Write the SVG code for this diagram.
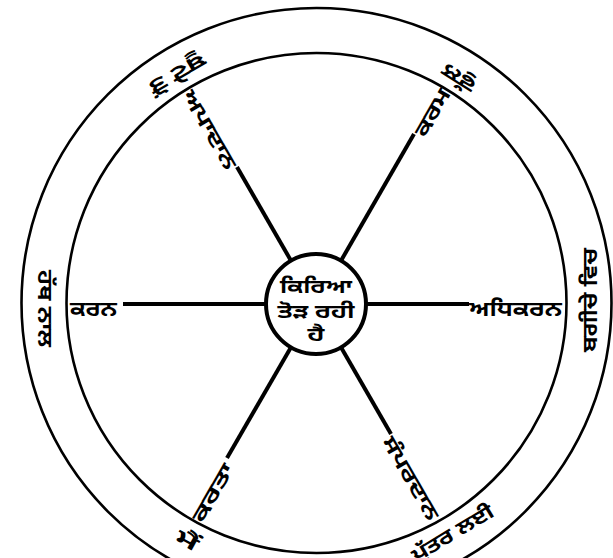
<svg xmlns="http://www.w3.org/2000/svg" width="613" height="558" viewBox="0 0 613 558">
<style>
.ring{fill:none;stroke:#000;stroke-width:2.6}
.spoke{stroke:#000;stroke-width:4;stroke-linecap:butt}
.hubc{fill:#fff;stroke:#000;stroke-width:4}
text{font-family:"Noto Sans Gurmukhi","Lohit Gurmukhi","Noto Sans","DejaVu Sans",sans-serif;fill:#000;font-weight:bold}
.lab{font-size:20px}
.rt{font-size:20px;text-anchor:middle}
.hubt{font-size:19px;text-anchor:middle}
</style>
<rect width="613" height="558" fill="#fff"/>
<g id="wheel">
<circle class="ring" cx="316.5" cy="303" r="295"/>
<circle class="ring" cx="316.5" cy="303" r="250"/>
</g>
<g id="connectors">
<line class="spoke" x1="366" y1="304" x2="469" y2="304"/>
<line class="spoke" x1="266" y1="304" x2="123" y2="304"/>
<line class="spoke" x1="291" y1="260.7" x2="237" y2="167"/>
<line class="spoke" x1="341" y1="260.7" x2="414" y2="134"/>
<line class="spoke" x1="291" y1="347.3" x2="227" y2="458"/>
<line class="spoke" x1="341" y1="347.3" x2="391" y2="434"/>
</g>
<g id="hub">
<circle class="hubc" cx="316" cy="304" r="50"/>
<text class="hubt" x="316" y="293" textLength="72" lengthAdjust="spacingAndGlyphs">ਕਿਰਿਆ</text>
<text class="hubt" x="316" y="318" textLength="77" lengthAdjust="spacingAndGlyphs">ਤੋੜ ਰਹੀ</text>
<text class="hubt" x="316" y="341" textLength="17" lengthAdjust="spacingAndGlyphs">ਹੈ</text>
</g>
<g id="adhikaran"><text class="lab" transform="translate(469,304)" y="12" textLength="93" lengthAdjust="spacingAndGlyphs">ਅਧਿਕਰਨ</text></g>
<g id="karan"><text class="lab" transform="translate(70,304)" y="12" textLength="47" lengthAdjust="spacingAndGlyphs">ਕਰਨ</text></g>
<g id="apadan"><text class="lab" transform="translate(192,89) rotate(60)" y="12" textLength="88" lengthAdjust="spacingAndGlyphs">ਅਪਾਦਾਨ</text></g>
<g id="karam"><text class="lab" transform="translate(415,132.5) rotate(-60)" y="12" textLength="52" lengthAdjust="spacingAndGlyphs">ਕਰਮ</text></g>
<g id="karta"><text class="lab" transform="translate(192.5,518) rotate(-60)" y="12" textLength="64" lengthAdjust="spacingAndGlyphs">ਕਰਤਾ</text></g>
<g id="sampradan"><text class="lab" transform="translate(392,435.6) rotate(60)" y="12" textLength="93" lengthAdjust="spacingAndGlyphs">ਸੰਪਰਦਾਨ</text></g>
<g id="r-right"><text class="rt" transform="translate(591,300) rotate(-90)" y="6" textLength="104" lengthAdjust="spacingAndGlyphs">ਬਗੀਚੇ ਵਿਚ</text></g>
<g id="r-left"><text class="rt" transform="translate(44,308.5) rotate(90)" y="6" textLength="77" lengthAdjust="spacingAndGlyphs">ਹੱਥ ਨਾਲ</text></g>
<g id="r-topleft"><text class="rt" transform="translate(177,73) rotate(150)" y="6" textLength="62" lengthAdjust="spacingAndGlyphs">ਬੂਟੇ ਤੋਂ</text></g>
<g id="r-topright"><text class="rt" transform="translate(459,77) rotate(-148)" y="6" textLength="36" lengthAdjust="spacingAndGlyphs">ਫੁੱਲ</text></g>
<g id="r-botleft"><text class="rt" transform="translate(187,541) rotate(29)" y="6" textLength="23" lengthAdjust="spacingAndGlyphs">ਮੈਂ</text></g>
<g id="r-botright"><text class="rt" transform="translate(453,534) rotate(-31)" y="6" textLength="92" lengthAdjust="spacingAndGlyphs">ਪੁੱਤਰ ਲਈ</text></g>
</svg>
